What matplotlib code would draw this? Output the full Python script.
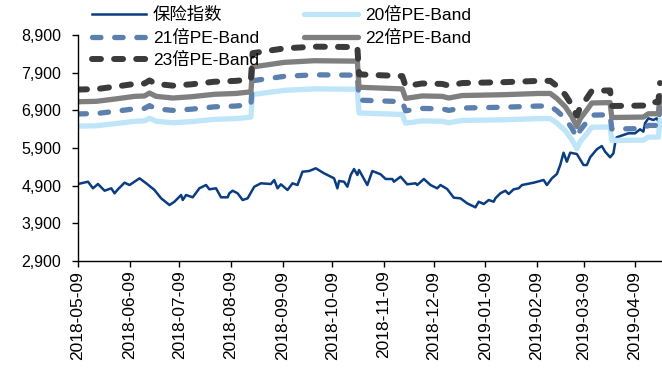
import matplotlib
matplotlib.use("Agg")
import matplotlib.pyplot as plt
import matplotlib.dates as mdates
from matplotlib.ticker import FuncFormatter, FixedLocator
import pandas as pd

plt.rcParams['font.family'] = ['Liberation Sans', 'Noto Sans CJK SC']

# insurance index close
index_dates = [
    '2018-05-09', '2018-05-15', '2018-05-18', '2018-05-21', '2018-05-25', '2018-05-29',
    '2018-05-31', '2018-06-02', '2018-06-06', '2018-06-09', '2018-06-15', '2018-06-19',
    '2018-06-24', '2018-06-28', '2018-07-03', '2018-07-06', '2018-07-10', '2018-07-11',
    '2018-07-13', '2018-07-17', '2018-07-21', '2018-07-25', '2018-07-27', '2018-07-31',
    '2018-08-03', '2018-08-07', '2018-08-08', '2018-08-10', '2018-08-13', '2018-08-16',
    '2018-08-19', '2018-08-23', '2018-08-27', '2018-09-02', '2018-09-04', '2018-09-06',
    '2018-09-08', '2018-09-12', '2018-09-15', '2018-09-18', '2018-09-21', '2018-09-25',
    '2018-09-29', '2018-10-04', '2018-10-10', '2018-10-12', '2018-10-13', '2018-10-16',
    '2018-10-18', '2018-10-20', '2018-10-22', '2018-10-24', '2018-10-25', '2018-10-30',
    '2018-11-02', '2018-11-07', '2018-11-10', '2018-11-14', '2018-11-15', '2018-11-19',
    '2018-11-23', '2018-11-28', '2018-11-29', '2018-12-03', '2018-12-07', '2018-12-11',
    '2018-12-13', '2018-12-17', '2018-12-21', '2018-12-25', '2018-12-29', '2019-01-03',
    '2019-01-05', '2019-01-08', '2019-01-11', '2019-01-14', '2019-01-15', '2019-01-18',
    '2019-01-21', '2019-01-23', '2019-01-26', '2019-01-29', '2019-01-31', '2019-02-07',
    '2019-02-13', '2019-02-15', '2019-02-18', '2019-02-21', '2019-02-23', '2019-02-25',
    '2019-02-27', '2019-03-01', '2019-03-05', '2019-03-09', '2019-03-11', '2019-03-13',
    '2019-03-17', '2019-03-20', '2019-03-22', '2019-03-25', '2019-03-27', '2019-03-28',
    '2019-03-29', '2019-04-02', '2019-04-05', '2019-04-09', '2019-04-12', '2019-04-14',
    '2019-04-15', '2019-04-17', '2019-04-20', '2019-04-22', '2019-04-24',
]
index_values = [
    4944, 5005, 4830, 4944, 4766, 4830,
    4697, 4803, 4979, 4917, 5095, 4963,
    4785, 4564, 4386, 4474, 4652, 4519,
    4652, 4591, 4830, 4917, 4803, 4830,
    4591, 4591, 4697, 4766, 4697, 4519,
    4564, 4872, 4963, 4944, 5050, 4830,
    4936, 4785, 4963, 4917, 5271, 5289,
    5361, 5228, 5095, 4830, 5024, 5005,
    4872, 5183, 5342, 5183, 5316, 4917,
    5289, 5202, 5077, 5077, 5005, 5138,
    4936, 4963, 4917, 5077, 4917, 4830,
    4917, 4811, 4580, 4564, 4432, 4325,
    4474, 4413, 4519, 4474, 4564, 4697,
    4766, 4679, 4803, 4830, 4917, 4979,
    5050, 4917, 5095, 5210, 5448, 5775,
    5536, 5775, 5741, 5448, 5448, 5653,
    5865, 5953, 5802, 5653, 5759, 6025,
    6184, 6245, 6290, 6290, 6396, 6333,
    6556, 6688, 6643, 6688, 6520,
]

# per-share earnings behind the PE bands
eps_dates = [
    '2018-05-09', '2018-05-20', '2018-06-01', '2018-06-12', '2018-06-18', '2018-06-21',
    '2018-06-25', '2018-07-05', '2018-07-16', '2018-07-30', '2018-08-12', '2018-08-21',
    '2018-08-22', '2018-09-10', '2018-09-28', '2018-10-24', '2018-10-25', '2018-11-20',
    '2018-11-22', '2018-12-02', '2018-12-14', '2018-12-18', '2018-12-26', '2019-01-20',
    '2019-02-10', '2019-02-17', '2019-02-21', '2019-02-26', '2019-03-02', '2019-03-05',
    '2019-03-07', '2019-03-11', '2019-03-14', '2019-03-25', '2019-03-26', '2019-04-14',
    '2019-04-17', '2019-04-23', '2019-04-24',
]
eps_values = [
    324.0, 324.5, 327.5, 330.5, 331.0, 334.5,
    330.5, 328.5, 330.0, 333.0, 334.0, 336.0,
    366.0, 371.5, 373.5, 373.0, 341.5, 339.5,
    328.0, 331.0, 330.5, 328.5, 331.5, 332.5,
    334.0, 334.0, 328.0, 318.0, 306.0, 294.0,
    303.5, 314.0, 322.5, 323.0, 305.0, 305.5,
    309.5, 309.5, 331.5,
]

band_multiples = [20, 21, 22, 23]
band_labels = ['20倍PE-Band', '21倍PE-Band', '22倍PE-Band', '23倍PE-Band']
band_colors = ['#BEE6F8', '#5B80AE', '#7F7F7F', '#3B3B3B']
band_widths = [3.8, 3.8, 3.8, 4.3]
band_dashes = [None, (1.6, 2.6), None, (1.5, 2.2)]

tick_dates = ['2018-05-09', '2018-06-09', '2018-07-09', '2018-08-09', '2018-09-09',
              '2018-10-09', '2018-11-09', '2018-12-09', '2019-01-09', '2019-02-09',
              '2019-03-09', '2019-04-09']
y_ticks = [2900, 3900, 4900, 5900, 6900, 7900, 8900]

idx_x = pd.to_datetime(index_dates)
eps_x = pd.to_datetime(eps_dates)

fig = plt.figure(figsize=(6.62, 3.78), dpi=100)
ax = fig.add_axes([78 / 662, 1 - 261 / 378, (662 - 78) / 662, (261 - 35) / 378])

handles = {}
h, = ax.plot(idx_x, index_values, color='#0B3D82', lw=1.8, label='保险指数')
handles['idx'] = h
for m, lab, c, w, d in zip(band_multiples, band_labels, band_colors, band_widths, band_dashes):
    vals = [e * m for e in eps_values]
    if d is None:
        ln, = ax.plot(eps_x, vals, color=c, lw=w, label=lab, solid_capstyle='round',
                      solid_joinstyle='round')
    else:
        ln, = ax.plot(eps_x, vals, color=c, lw=w, label=lab, dashes=d,
                      dash_capstyle='round', dash_joinstyle='round')
    handles[m] = ln

ax.set_xlim(pd.Timestamp('2018-05-09'), pd.Timestamp('2019-04-25 05:00'))
ax.set_ylim(2900, 8900)
ax.xaxis.set_major_locator(FixedLocator(mdates.date2num(pd.to_datetime(tick_dates))))
ax.xaxis.set_major_formatter(mdates.DateFormatter('%Y-%m-%d'))
ax.set_yticks(y_ticks)
ax.yaxis.set_major_formatter(FuncFormatter(lambda v, p: f'{int(v):,}'))

for s in ['top', 'right']:
    ax.spines[s].set_visible(False)
for s in ['left', 'bottom']:
    ax.spines[s].set_linewidth(1.0)
    ax.spines[s].set_color('black')
ax.tick_params(axis='y', direction='out', length=4, width=1, pad=8, labelsize=11.5)
ax.tick_params(axis='x', direction='out', length=4, width=1, pad=3, labelsize=12.5,
               labelrotation=90)

order = [handles['idx'], handles[21], handles[23], handles[20], handles[22]]
leg = fig.legend(handles=order, labels=[l.get_label() for l in order], ncol=2,
                 loc='upper left', bbox_to_anchor=(92 / 662, 1 - 7 / 378),
                 frameon=False, fontsize=12.5, handlelength=3.1, handletextpad=0.4,
                 columnspacing=2.6, labelspacing=0.38, borderpad=0, borderaxespad=0)

fig.savefig('out.png', dpi=100)
